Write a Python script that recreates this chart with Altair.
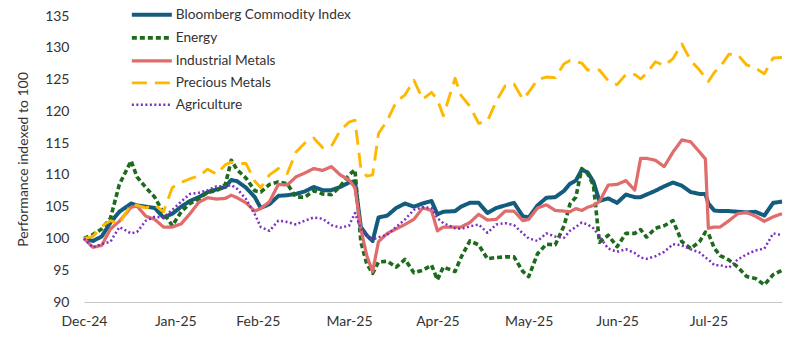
import altair as alt
import pandas as pd

dates = [
    "2024-12-31", "2025-01-03", "2025-01-06", "2025-01-09", "2025-01-12", "2025-01-16", "2025-01-18", "2025-01-21", "2025-01-24", "2025-01-27",
    "2025-01-30", "2025-02-02", "2025-02-05", "2025-02-08", "2025-02-11", "2025-02-14", "2025-02-17", "2025-02-19", "2025-02-21", "2025-02-24",
    "2025-02-27", "2025-03-01", "2025-03-04", "2025-03-07", "2025-03-10", "2025-03-13", "2025-03-16", "2025-03-19", "2025-03-22", "2025-03-25",
    "2025-03-28", "2025-03-31", "2025-04-02", "2025-04-04", "2025-04-06", "2025-04-08", "2025-04-10", "2025-04-13", "2025-04-16", "2025-04-19",
    "2025-04-22", "2025-04-25", "2025-04-28", "2025-04-30", "2025-05-02", "2025-05-06", "2025-05-08", "2025-05-11", "2025-05-14", "2025-05-17",
    "2025-05-20", "2025-05-23", "2025-05-26", "2025-05-29", "2025-05-31", "2025-06-03", "2025-06-06", "2025-06-09", "2025-06-12", "2025-06-14",
    "2025-06-16", "2025-06-18", "2025-06-20", "2025-06-22", "2025-06-24", "2025-06-27", "2025-06-30", "2025-07-03", "2025-07-06", "2025-07-08",
    "2025-07-10", "2025-07-13", "2025-07-16", "2025-07-19", "2025-07-22", "2025-07-25", "2025-07-28", "2025-07-30", "2025-07-31", "2025-08-02",
    "2025-08-04", "2025-08-07", "2025-08-10", "2025-08-13", "2025-08-16", "2025-08-19", "2025-08-22", "2025-08-25",
]

bcom = [
    100.0, 99.6, 100.3, 102.5, 104.2, 105.5, 105.2, 105.0, 104.8, 103.3,
    103.9, 105.0, 105.9, 106.5, 107.3, 107.7, 108.1, 109.2, 109.0, 108.0,
    106.5, 104.8, 105.4, 106.7, 106.8, 107.0, 107.4, 108.1, 107.6, 107.6,
    108.1, 108.8, 109.0, 101.8, 100.5, 99.6, 103.3, 103.6, 104.8, 105.5,
    105.0, 105.5, 105.9, 103.8, 104.2, 104.3, 105.0, 105.6, 105.6, 104.0,
    104.8, 105.2, 105.6, 103.5, 103.3, 105.2, 106.4, 106.5, 107.5, 108.6,
    109.1, 110.8, 110.4, 108.9, 105.9, 106.3, 105.6, 106.9, 106.5, 106.5,
    106.9, 107.5, 108.2, 108.8, 108.3, 107.3, 107.0, 107.0, 105.5, 104.4,
    104.3, 104.3, 104.2, 104.1, 104.2, 103.6, 105.6, 105.8,
]

energy = [
    100.0, 100.6, 101.5, 103.2, 108.5, 112.2, 109.7, 108.0, 106.5, 104.0,
    102.0, 104.2, 105.5, 106.2, 107.3, 107.5, 108.5, 112.3, 110.8, 109.5,
    107.5, 107.3, 108.5, 108.9, 108.6, 106.5, 106.5, 107.5, 107.0, 106.9,
    108.2, 110.0, 110.8, 99.5, 96.0, 94.5, 96.3, 96.4, 95.5, 96.7,
    94.6, 95.0, 95.8, 93.5, 95.5, 94.8, 97.0, 99.6, 99.0, 96.8,
    97.0, 97.1, 97.1, 94.8, 94.0, 97.6, 99.1, 99.0, 102.0, 105.4,
    106.5, 111.0, 110.2, 108.3, 99.4, 100.5, 98.7, 100.8, 100.8, 101.4,
    100.2, 101.6, 102.0, 102.8, 99.5, 98.4, 99.5, 101.0, 100.8, 98.5,
    97.3, 96.6, 95.5, 94.0, 93.7, 92.7, 94.3, 95.0,
]

ind_metals = [
    100.0, 98.6, 98.9, 101.5, 102.7, 104.9, 105.1, 103.5, 103.0, 101.8,
    101.8, 102.3, 103.9, 105.7, 106.4, 106.2, 106.3, 106.8, 106.4, 105.6,
    104.3, 104.7, 105.8, 108.5, 108.4, 109.7, 110.3, 111.0, 110.7, 111.3,
    110.0, 109.2, 108.0, 101.5, 97.3, 94.8, 99.5, 100.8, 101.5, 102.2,
    103.0, 104.8, 104.4, 101.2, 101.8, 101.8, 101.8, 102.5, 103.8, 102.9,
    103.0, 104.3, 104.3, 102.8, 103.0, 104.8, 105.3, 104.4, 104.3, 104.2,
    104.7, 104.4, 104.9, 105.2, 105.8, 108.4, 108.5, 109.1, 107.6, 112.6,
    112.6, 112.3, 111.3, 113.6, 115.5, 115.2, 113.6, 112.5, 101.6, 101.8,
    101.8, 102.8, 103.9, 104.1, 103.5, 102.7, 103.4, 103.9,
]

prec_metals = [
    100.0, 100.3, 101.9, 102.8, 102.3, 105.4, 105.2, 104.8, 105.3, 104.2,
    108.0, 108.8, 109.4, 109.8, 110.9, 110.1, 111.6, 112.0, 111.8, 111.8,
    109.0, 108.0, 110.0, 111.0, 110.2, 113.6, 115.0, 115.8, 114.3, 114.5,
    117.0, 118.3, 118.6, 111.0, 109.8, 110.0, 116.5, 118.6, 121.5, 122.6,
    124.9, 121.9, 123.0, 121.8, 119.3, 125.2, 122.5, 120.8, 118.1, 118.5,
    121.6, 124.0, 124.3, 121.9, 123.0, 125.0, 125.4, 125.3, 127.5, 128.0,
    127.8, 127.6, 126.5, 126.5, 126.5, 124.8, 124.2, 125.8, 125.8, 125.1,
    126.0, 127.8, 127.2, 128.3, 130.6, 128.0, 126.5, 125.3, 124.7, 126.1,
    127.0, 129.0, 128.9, 127.3, 126.8, 125.9, 128.4, 128.5,
]

agriculture = [
    100.0, 98.6, 99.1, 99.5, 101.8, 100.8, 101.0, 102.8, 103.4, 103.3,
    104.5, 105.8, 107.0, 107.2, 107.6, 108.2, 108.2, 108.4, 107.8, 106.2,
    103.8, 101.8, 101.2, 102.8, 102.6, 102.2, 102.8, 103.3, 103.1, 102.1,
    101.7, 102.0, 104.0, 101.5, 100.5, 99.8, 100.2, 100.6, 101.8, 103.0,
    104.5, 104.9, 104.8, 103.2, 102.4, 101.6, 101.5, 101.9, 102.2, 100.9,
    102.2, 102.4, 102.1, 100.8, 100.0, 99.6, 100.8, 100.3, 100.1, 101.2,
    101.8, 102.5, 102.2, 101.6, 100.3, 98.4, 97.9, 98.3, 97.7, 97.0,
    96.8, 97.2, 97.9, 99.1, 98.9, 98.3, 97.8, 97.0, 96.7, 95.8,
    95.8, 95.4, 96.7, 97.5, 98.1, 98.4, 100.8, 100.5,
]

series_names = ["Bloomberg Commodity Index", "Energy", "Industrial Metals", "Precious Metals", "Agriculture"]
series_values = [bcom, energy, ind_metals, prec_metals, agriculture]
colors = ["#145C7E", "#1E6B1E", "#E06C6C", "#FFB800", "#7B30C0"]
dashes = [[1, 0], [5, 3], [1, 0], [15, 8], [2, 2.5]]
widths = [4.0, 2.5, 3.0, 2.5, 2.0]

x_tick_dates = ["2024-12-31", "2025-01-31", "2025-02-28", "2025-03-31", "2025-04-30", "2025-05-31", "2025-06-30", "2025-07-31"]
y_ticks = [90, 95, 100, 105, 110, 115, 120, 125, 130, 135]

rows = []
for name, vals in zip(series_names, series_values):
    for d, v in zip(dates, vals):
        rows.append({"date": d, "value": v, "series": name})
df = pd.DataFrame(rows)


def dt(s):
    y, m, d = (int(p) for p in s.split("-"))
    return alt.DateTime(year=y, month=m, date=d, utc=True)


FONT = "Lato"
TXT = "#333333"

legend = alt.Legend(
    title=None,
    orient="none",
    legendX=45,
    legendY=-8,
    symbolType="M-1,0L9,0",
    symbolSize=64,
    labelFont=FONT,
    labelFontSize=13.7,
    labelColor=TXT,
    labelOffset=33,
    labelLimit=400,
    rowPadding=7,
)

chart = (
    alt.Chart(df)
    .mark_line(interpolate="linear", strokeCap="butt", strokeJoin="round")
    .encode(
        x=alt.X(
            "date:T",
            scale=alt.Scale(type="utc", domain=[dt(dates[0]), dt(dates[-1])], nice=False),
            axis=alt.Axis(
                title=None,
                values=[dt(s) for s in x_tick_dates],
                labelExpr="utcFormat(datum.value, '%b-%y')",
                labelFont=FONT,
                labelFontSize=14,
                labelColor=TXT,
                labelPadding=12,
                labelFlush=False,
                labelOverlap=False,
                ticks=False,
                grid=False,
                domainColor="#C8C8C8",
                domainWidth=1,
            ),
        ),
        y=alt.Y(
            "value:Q",
            scale=alt.Scale(domain=[90, 135], nice=False, zero=False),
            axis=alt.Axis(
                title="Performance indexed to 100",
                values=y_ticks,
                labelFont=FONT,
                labelFontSize=14,
                labelColor=TXT,
                labelPadding=15,
                ticks=False,
                grid=False,
                domain=False,
                titleFont=FONT,
                titleFontSize=14,
                titleFontWeight="normal",
                titleColor=TXT,
                titlePadding=14,
            ),
        ),
        color=alt.Color(
            "series:N",
            scale=alt.Scale(domain=series_names, range=colors),
            legend=legend,
        ),
        strokeDash=alt.StrokeDash(
            "series:N",
            scale=alt.Scale(domain=series_names, range=dashes),
        ),
        strokeWidth=alt.StrokeWidth(
            "series:N",
            scale=alt.Scale(domain=series_names, range=widths),
        ),
    )
    .properties(
        width=698,
        height=286,
        autosize=alt.AutoSizeParams(type="none"),
        padding={"left": 84, "top": 16, "right": 18, "bottom": 39},
    )
    .configure_view(stroke=None)
)

chart.save("out.html", embed_options={"renderer": "svg", "actions": False})
